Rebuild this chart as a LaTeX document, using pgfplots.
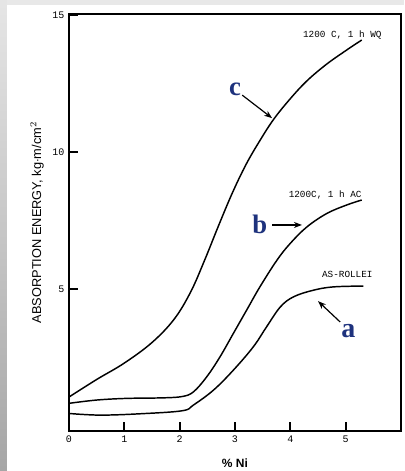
\documentclass[border=0pt]{standalone}
\usepackage{fontspec}
\setmainfont{Liberation Serif}
\setsansfont{Liberation Sans}
\setmonofont{Liberation Mono}
\usepackage{pgfplots}
\pgfplotsset{compat=1.18}
\usetikzlibrary{arrows.meta}
\definecolor{letterblue}{RGB}{30,50,125}

\begin{document}
\begin{tikzpicture}
% page: 403x471 px, 1px = 0.75pt; axis box lower left at (0,0)
\path[use as bounding box] (-51.75pt,-30pt) rectangle (251.25pt,323.25pt);
\shade[top color=black!10, bottom color=black!35] (-51.75pt,-30pt) rectangle (-46.5pt,323.25pt);
\fill[black!9] (-46.5pt,319.5pt) rectangle (251.25pt,323.25pt);
\begin{axis}[
    at={(0pt,0pt)}, anchor=south west,
    scale only axis,
    width=249pt, height=312.75pt,
    xmin=0, xmax=6,
    ymin=-0.18, ymax=15.04,
    axis line style={line width=1.4pt},
    xtick={0,1,2,3,4,5},
    ytick={5,10,15},
    xtick pos=left, ytick pos=left,
    tick align=inside,
    major tick length=7pt,
    major tick style={black, line width=1.6pt},
    tick label style={font=\ttfamily\fontsize{7.5}{8}\selectfont},
    /pgf/number format/assume math mode=true,
    xlabel={\% Ni},
    xlabel style={font=\sffamily\bfseries\fontsize{9}{10}\selectfont, at={(axis description cs:0.5,0)}, anchor=center, yshift=-24pt},
    ylabel={ABSORPTION ENERGY, kg$\cdot$m/cm$^2$},
    ylabel style={font=\sffamily\fontsize{9.6}{11}\selectfont, at={(axis description cs:0,0.5)}, anchor=center, yshift=24pt},
    clip=false,
]
% curve c: 1200 C, 1 h WQ
\addplot[black, line width=1.1pt, smooth, tension=0.6] coordinates {
(0.0,1.06) (0.5,1.7) (1.0,2.3) (1.5,3.05) (1.9,3.9) (2.2,4.9) (2.45,6.05)
(2.7,7.3) (2.95,8.5) (3.2,9.55) (3.45,10.42) (3.7,11.2) (4.0,11.95)
(4.3,12.6) (4.65,13.2) (5.0,13.7) (5.29,14.09)};
% curve b: 1200C, 1 h AC
\addplot[black, line width=1.1pt, smooth, tension=0.6] coordinates {
(0.0,0.83) (0.5,0.95) (1.04,1.01) (1.7,1.03) (2.05,1.08) (2.25,1.25) (2.49,1.8) (2.73,2.53) (2.97,3.38)
(3.21,4.23) (3.45,5.08) (3.76,6.06) (4.0,6.67) (4.30,7.27) (4.66,7.76) (5.02,8.07) (5.29,8.25)};
% curve a: as-rolled
\addplot[black, line width=1.1pt, smooth, tension=0.6] coordinates {
(0.0,0.46) (0.56,0.40) (1.3,0.45) (2.05,0.56) (2.25,0.77) (2.61,1.31) (2.97,2.04) (3.33,2.89)
(3.57,3.62) (3.82,4.35) (4.06,4.72) (4.42,4.96) (4.78,5.08) (5.32,5.11)};
% tick marks drawn again by hand so they show at this size
\pgfplotsinvokeforeach{1,2,3,4,5}{\draw[line width=1.6pt] (axis cs:#1,-0.18) -- ++(0pt,7pt);}
\pgfplotsinvokeforeach{5,10}{\draw[line width=1.6pt] (axis cs:0,#1) -- ++(7pt,0pt);}
% curve labels
\node[font=\ttfamily\fontsize{7}{8}\selectfont] at (axis cs:4.94,14.27) {1200 C, 1 h WQ};
\node[font=\ttfamily\fontsize{7}{8}\selectfont] at (axis cs:4.63,8.42) {1200C, 1 h AC};
\node[font=\ttfamily\fontsize{7}{8}\selectfont] at (axis cs:5.03,5.55) {AS-ROLLEI};
% blue letters and arrows
\node[font=\bfseries\fontsize{20}{22}\selectfont, text=letterblue] at (axis cs:3.0,12.3) {c};
\node[font=\bfseries\fontsize{20}{22}\selectfont, text=letterblue] at (axis cs:3.45,7.35) {b};
\node[font=\bfseries\fontsize{21}{23}\selectfont, text=letterblue] at (axis cs:5.05,3.45) {a};
\draw[-{Stealth[length=6pt,width=4.5pt]}, line width=0.9pt] (axis cs:3.13,12.08) -- (axis cs:3.67,11.24);
\draw[-{Stealth[length=6pt,width=4.5pt]}, line width=0.9pt] (axis cs:3.67,7.34) -- (axis cs:4.21,7.34);
\draw[-{Stealth[length=6pt,width=4.5pt]}, line width=0.9pt] (axis cs:4.90,3.80) -- (axis cs:4.50,4.56);
\end{axis}
\end{tikzpicture}
\end{document}
